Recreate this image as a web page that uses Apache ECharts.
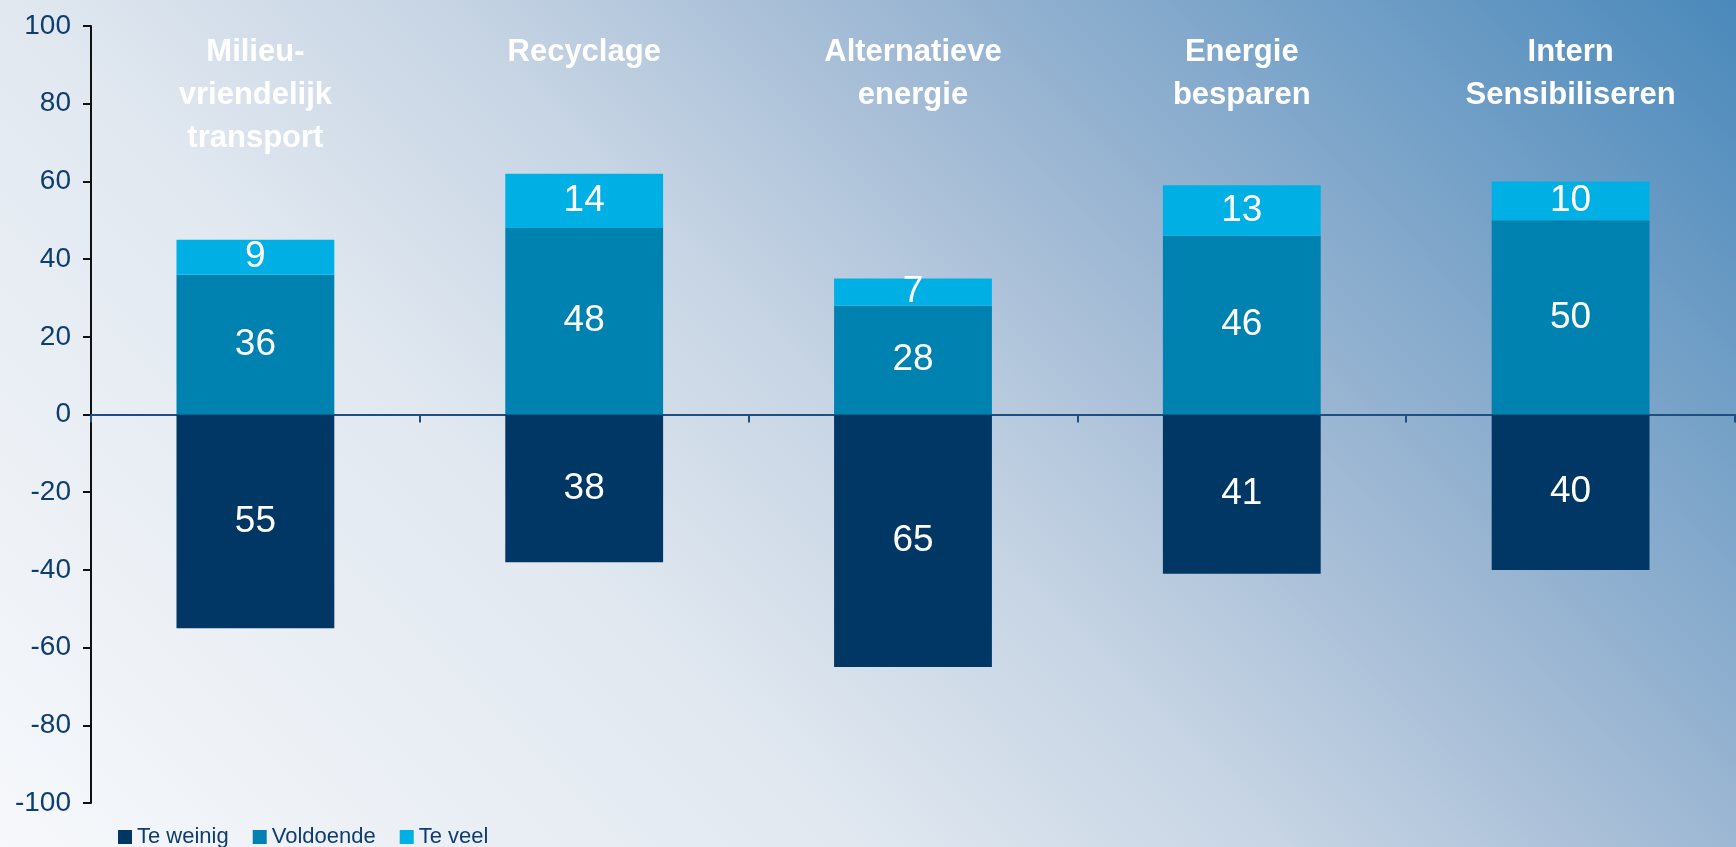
<!DOCTYPE html>
<html>
<head>
<meta charset="utf-8">
<script src="https://cdn.jsdelivr.net/npm/echarts@6/dist/echarts.min.js"></script>
<style>
html,body{margin:0;padding:0;width:1736px;height:847px;overflow:hidden;}
#chart{width:1736px;height:847px;background:linear-gradient(45deg,#f6f8fb 0%,#e1e8f0 33%,#c6d4e4 50%,#a0b9d4 66%,#4a89bb 100%);}
</style>
</head>
<body>
<div id="chart"></div>
<script>
const categories = ['Milieu-\nvriendelijk\ntransport', 'Recyclage', 'Alternatieve\nenergie', 'Energie\nbesparen', 'Intern\nSensibiliseren'];
const teWeinig = [-55, -38, -65, -41, -40];
const voldoende = [36, 48, 28, 46, 50];
const teVeel = [9, 14, 7, 13, 10];
const yTicks = {min: -100, max: 100, interval: 20};

const chart = echarts.init(document.getElementById('chart'), null, {renderer: 'canvas'});
const font = 'Liberation Sans, Arial, sans-serif';
const lbl = {
  show: true, position: 'inside', color: '#ffffff', fontSize: 37, fontFamily: font,
  formatter: p => Math.abs(p.value)
};
chart.setOption({
  backgroundColor: 'transparent',
  animation: false,
  textStyle: {fontFamily: font},
  grid: {left: 91, right: 1, top: 26, bottom: 44, containLabel: false},
  legend: {
    left: 118, bottom: -1, itemWidth: 14, itemHeight: 14, itemGap: 24, icon: 'rect', padding: 0,
    textStyle: {fontSize: 22, color: '#0e3d6f', fontFamily: font, padding: [0, 0, 0, 0]},
    data: ['Te weinig', 'Voldoende', 'Te veel']
  },
  xAxis: [{
    type: 'category', data: categories, position: 'bottom',
    axisLine: {onZero: true, lineStyle: {color: '#1f4f82', width: 2}},
    axisTick: {show: true, length: 8, lineStyle: {color: '#1f4f82', width: 2}},
    axisLabel: {show: false}
  }, {
    type: 'category', data: categories, position: 'top',
    axisLine: {show: false}, axisTick: {show: false},
    axisLabel: {
      show: true, inside: true, interval: 0, margin: 5, verticalAlign: 'top',
      color: '#ffffff', fontSize: 31, fontWeight: 'bold', lineHeight: 43, fontFamily: font
    }
  }],
  yAxis: {
    type: 'value', min: yTicks.min, max: yTicks.max, interval: yTicks.interval,
    axisLine: {show: true, lineStyle: {color: '#111111', width: 2}},
    axisTick: {show: true, length: 8, lineStyle: {color: '#111111', width: 2}},
    axisLabel: {color: '#0e3d6f', fontSize: 28, margin: 20, fontFamily: font},
    splitLine: {show: false}
  },
  series: [
    {name: 'Te weinig', type: 'bar', stack: 's', data: teWeinig, barWidth: '48%',
     itemStyle: {color: '#003764'}, label: lbl},
    {name: 'Voldoende', type: 'bar', stack: 's', data: voldoende,
     itemStyle: {color: '#0082b0'}, label: lbl},
    {name: 'Te veel', type: 'bar', stack: 's', data: teVeel,
     itemStyle: {color: '#00b0e4'}, label: lbl}
  ]
});
</script>
</body>
</html>
